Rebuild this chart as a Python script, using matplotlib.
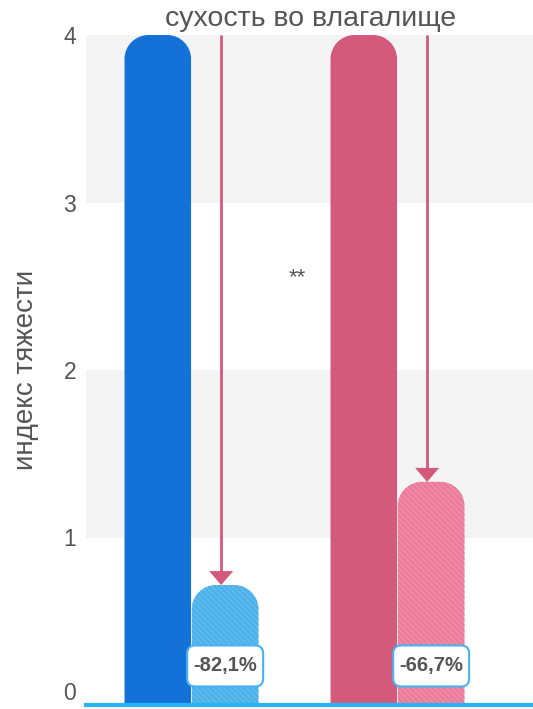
import matplotlib
matplotlib.use("Agg")
import matplotlib.pyplot as plt
from matplotlib.path import Path
from matplotlib.patches import PathPatch, FancyBboxPatch

plt.rcParams['font.family'] = ['Liberation Sans', 'DejaVu Sans']

# Data
groups = ["group A", "group B"]
baseline = [4.0, 4.0]
change_pct = [-82.1, -66.7]
after = [b * (1 + c / 100) for b, c in zip(baseline, change_pct)]
pct_labels = ["-82,1%", "-66,7%"]
yticks = [0, 1, 2, 3, 4]
title = "сухость во влагалище"
ylabel = "индекс тяжести"
signif = "**"

base_colors = ["#1471d7", "#d45a7c"]
after_colors = ["#5bbcef", "#f28aa8"]
hatch_colors = ["#4fb0e9", "#e87c9a"]
arrow_color = "#d45a7c"
text_color = "#555555"

W, H = 533, 709
fig = plt.figure(figsize=(W / 100, H / 100), dpi=100)
ax = fig.add_axes([86 / W, 4 / H, (W - 86) / W, (705 - 35) / H])

xlim = (-0.512, 1.658)
ylim = (0, 4)
ax.set_xlim(*xlim)
ax.set_ylim(*ylim)

# pixel <-> data scale
px_x = (xlim[1] - xlim[0]) / (W - 86)
px_y = (ylim[1] - ylim[0]) / (705 - 35)

# alternating gray bands
for lo in (1, 3):
    ax.axhspan(lo, lo + 1, color="#f4f4f4", zorder=0, lw=0)

bar_w = 0.323
offset = bar_w / 2 + 0.002


def rounded_bar(xc, height, width, r_px, **kw):
    rx = r_px * px_x
    ry = r_px * px_y
    x0, x1 = xc - width / 2, xc + width / 2
    k = 0.5523
    verts = [
        (x0, 0), (x0, height - ry),
        (x0, height - ry + k * ry), (x0 + rx - k * rx, height), (x0 + rx, height),
        (x1 - rx, height),
        (x1 - rx + k * rx, height), (x1, height - ry + k * ry), (x1, height - ry),
        (x1, 0), (x0, 0),
    ]
    codes = [Path.MOVETO, Path.LINETO,
             Path.CURVE4, Path.CURVE4, Path.CURVE4,
             Path.LINETO,
             Path.CURVE4, Path.CURVE4, Path.CURVE4,
             Path.LINETO, Path.CLOSEPOLY]
    p = PathPatch(Path(verts, codes), **kw)
    ax.add_patch(p)
    return p


plt.rcParams['hatch.linewidth'] = 1.6
for i, g in enumerate(groups):
    xb = i - offset
    xa = i + offset
    rounded_bar(xb, baseline[i], bar_w, 24, facecolor=base_colors[i],
                edgecolor="none", zorder=2)
    rounded_bar(xa, after[i], bar_w, 24, facecolor=after_colors[i],
                edgecolor=hatch_colors[i], hatch="\\\\\\\\\\\\", lw=0, zorder=2)
    # arrow from the baseline level down to the reduced bar
    xarr = xa - 4 * px_x
    tip = after[i]
    head_h = 14 * px_y
    ax.plot([xarr, xarr], [baseline[i], tip + head_h], color=arrow_color,
            lw=2, zorder=3, solid_capstyle="butt")
    ax.fill([xarr - 12 * px_x, xarr + 12 * px_x, xarr],
            [tip + head_h, tip + head_h, tip], color=arrow_color, lw=0, zorder=3)
    # percentage label box
    bw, bh = 76 * px_x, 41 * px_y
    yc = 0.233
    box = FancyBboxPatch((xa - bw / 2, yc - bh / 2), bw, bh,
                         boxstyle=f"round,pad=0,rounding_size={8 * px_x}",
                         mutation_aspect=px_y / px_x,
                         facecolor="white", edgecolor="#45b3f2", lw=1.5, zorder=4)
    ax.add_patch(box)
    ax.text(xa, yc, pct_labels[i], ha="center", va="center", fontsize=14.5,
            fontweight="bold", color=text_color, zorder=5)

ax.text(0.512, 2.55, signif, ha="center", va="center", fontsize=16,
        color=text_color, zorder=5)

ax.axhline(0, color="#29b3f3", lw=3, zorder=6, clip_on=False)

for s in ax.spines.values():
    s.set_visible(False)
ax.set_xticks([])
ax.set_yticks(yticks)
ax.set_yticklabels([str(t) for t in yticks], fontsize=16.5, color=text_color)
ax.tick_params(axis="y", length=0, pad=7)
ax.get_yticklabels()[0].set_verticalalignment("bottom")
ax.set_ylabel(ylabel, fontsize=20, color=text_color, labelpad=18)
fig.text(311 / W, 1 - 19 / H, title, ha="center", va="center",
         fontsize=20.5, color=text_color)

fig.savefig("out.png", dpi=100)
